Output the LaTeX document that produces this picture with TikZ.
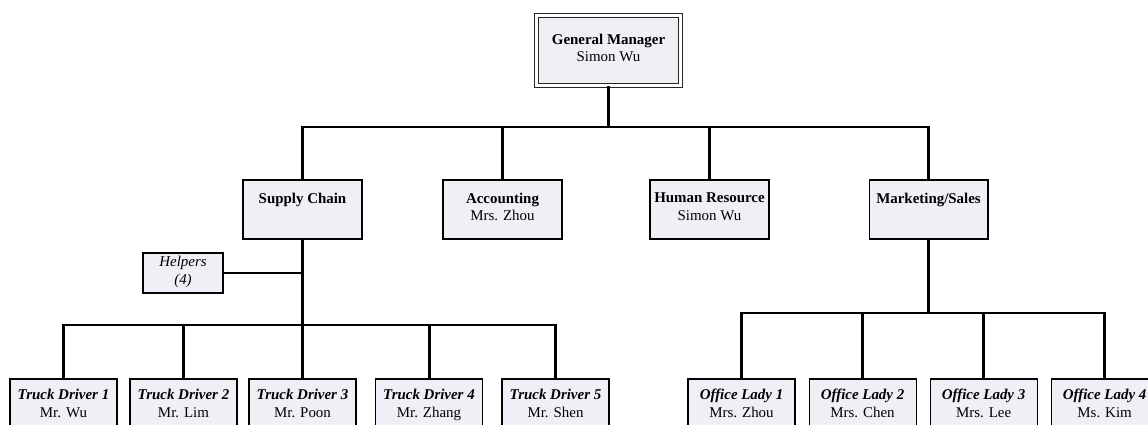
\documentclass[tikz,border=0pt]{standalone}
\usepackage{fontspec}
\setmainfont{Liberation Serif}
\usetikzlibrary{positioning}
\definecolor{boxfill}{RGB}{238,240,245}

\begin{document}
\begin{tikzpicture}[
  x=0.02cm, y=-0.02cm,
  font=\fontsize{8.5}{10}\selectfont,
  box/.style={rectangle, draw, line width=0.6pt, fill=boxfill, inner sep=0pt, align=center, execute at end node=\strut},
  dept/.style={box, minimum width=2.38cm, minimum height=1.18cm},
  staff/.style={box, minimum width=2.14cm, minimum height=1.08cm},
  conn/.style={line width=1.7pt}
  ]
  \useasboundingbox (0,0) rectangle (1148,425);
  \clip (0,0) rectangle (1148,425);

  % ========== top ==========
  \node[box, minimum width=2.88cm, minimum height=1.4cm, double, double distance=1.6pt, draw=black!85, line width=0.5pt] (gm) at (608.5,50.5)
    {\textbf{General Manager}\\Simon Wu};

  % ========== departments ==========
  \node[dept] (supply) at (302.5,209.5) {\textbf{Supply Chain}\\};
  \node[dept] (account) at (502.5,209.5) {\textbf{Accounting}\\Mrs. Zhou};
  \node[dept] (hr) at (709.5,209.5) {\textbf{Human Resource}\\Simon Wu};
  \node[dept] (market) at (928.5,209.5) {\textbf{Marketing/Sales}\\};

  \coordinate (gmbus) at (608.5,127);
  \draw[conn] (gm.south) -- (gmbus);
  \draw[conn] (gmbus) -| (supply.north); \draw[conn] (gmbus) -| (account.north);
  \draw[conn] (gmbus) -| (hr.north); \draw[conn] (gmbus) -| (market.north);

  % ========== supply chain ==========
  \node[box, minimum width=1.6cm, minimum height=0.8cm] (helpers) at (183,273) {\textit{Helpers}\\\textit{(4)}};
  \node[staff] (td1) at (63.5,406) {\textbf{\textit{Truck Driver 1}}\\Mr. Wu};
  \node[staff] (td2) at (183.5,406) {\textbf{\textit{Truck Driver 2}}\\Mr. Lim};
  \node[staff] (td3) at (302.5,406) {\textbf{\textit{Truck Driver 3}}\\Mr. Poon};
  \node[staff] (td4) at (429,406) {\textbf{\textit{Truck Driver 4}}\\Mr. Zhang};
  \node[staff] (td5) at (555.5,406) {\textbf{\textit{Truck Driver 5}}\\Mr. Shen};

  \coordinate (sbus) at (302.5,325);
  \draw[conn] (supply.south) -- (sbus);
  \draw[conn] (helpers.east) -- (helpers.east -| supply.south);
  \draw[conn] (sbus) -| (td1.north); \draw[conn] (sbus) -| (td2.north); \draw[conn] (sbus) -- (td3.north);
  \draw[conn] (sbus) -| (td4.north); \draw[conn] (sbus) -| (td5.north);

  % ========== marketing/sales ==========
  \node[staff] (ol1) at (741.5,406) {\textbf{\textit{Office Lady 1}}\\Mrs. Zhou};
  \node[staff, right=0.26cm of ol1] (ol2) {\textbf{\textit{Office Lady 2}}\\Mrs. Chen};
  \node[staff, right=0.26cm of ol2] (ol3) {\textbf{\textit{Office Lady 3}}\\Mrs. Lee};
  \node[staff, right=0.26cm of ol3] (ol4) {\textbf{\textit{Office Lady 4}}\\Ms. Kim};

  \coordinate (mbus) at (928.5,313);
  \draw[conn] (market.south) -- (mbus);
  \draw[conn] (mbus) -| (ol1.north); \draw[conn] (mbus) -| (ol2.north);
  \draw[conn] (mbus) -| (ol3.north); \draw[conn] (mbus) -| (ol4.north);
\end{tikzpicture}
\end{document}
